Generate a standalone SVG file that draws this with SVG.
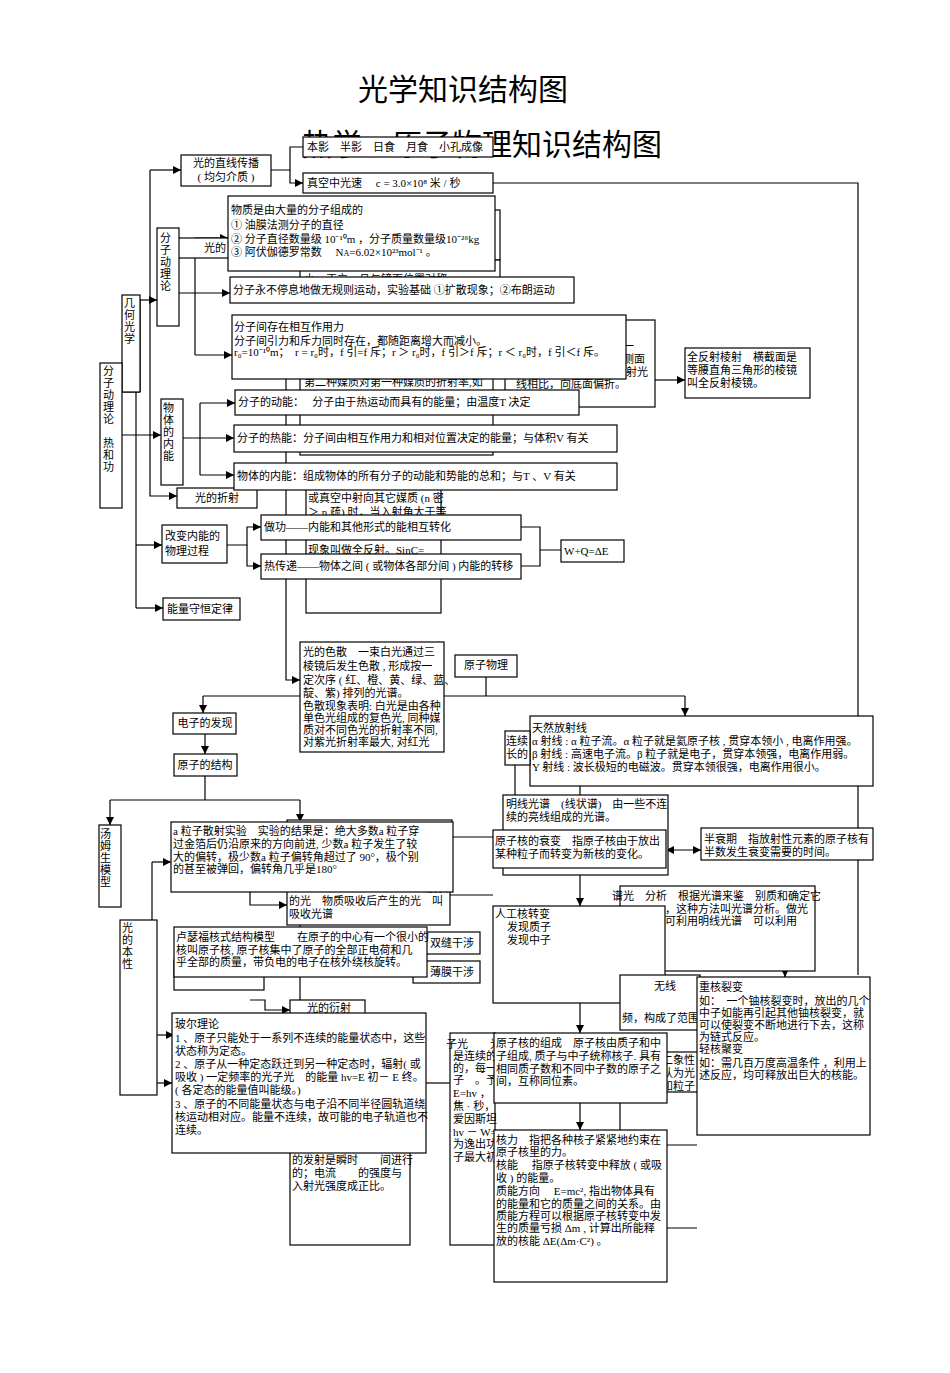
<svg xmlns="http://www.w3.org/2000/svg" width="950" height="1373" viewBox="0 0 950 1373">
<defs>
<marker id="a" viewBox="0 0 10 10" refX="10" refY="5" markerWidth="7" markerHeight="7" orient="auto"><path d="M0,0L10,5L0,10z" fill="#000"/></marker>
<marker id="s" viewBox="0 0 10 10" refX="0" refY="5" markerWidth="7" markerHeight="7" orient="auto"><path d="M10,0L0,5L10,10z" fill="#000"/></marker>
<style>
rect{fill:#fff;stroke:#000;stroke-width:1.2}
text{font-family:"Liberation Serif","Noto Sans CJK SC",serif;font-size:11px;fill:#000}
.t{font-family:"Noto Sans CJK SC","Liberation Sans",sans-serif;font-size:30px}
.l{fill:none;stroke:#000;stroke-width:1.2}
</style>
</defs>
<rect x="0" y="0" width="950" height="1373" style="stroke:none"/>
<text class="t" x="463" y="100" text-anchor="middle">光学知识结构图</text>
<text class="t" x="482" y="155" text-anchor="middle">热学、原子物理知识结构图</text>

<g id="connectors">
<path class="l" d="M493,183H858V975"/>
<path class="l" d="M271,170H290V147H303"/>
<path class="l" d="M290,170V183H303" marker-end="url(#a)"/>
<path class="l" d="M136,300V608"/>
<path class="l" d="M136,300H157" marker-end="url(#a)"/>
<path class="l" d="M122,435H161" marker-end="url(#a)"/>
<path class="l" d="M136,545H162" marker-end="url(#a)"/>
<path class="l" d="M136,608H163" marker-end="url(#a)"/>
<path class="l" d="M140,392H122M140,300V392"/>
<path class="l" d="M150,170H181" marker-end="url(#a)"/>
<path class="l" d="M150,170V496H177" marker-end="url(#a)"/>
<path class="l" d="M179,293H230" marker-end="url(#a)"/>
<path class="l" d="M195,238V355"/>
<path class="l" d="M195,238H228" marker-end="url(#a)"/>
<path class="l" d="M195,355H232" marker-end="url(#a)"/>
<path class="l" d="M183,438H234" marker-end="url(#a)"/>
<path class="l" d="M200,403V475"/>
<path class="l" d="M200,403H235" marker-end="url(#a)"/>
<path class="l" d="M200,475H234" marker-end="url(#a)"/>
<path class="l" d="M227,545H247V527H261" marker-end="url(#a)"/>
<path class="l" d="M247,545V566H261" marker-end="url(#a)"/>
<path class="l" d="M521,527H540V566H521M540,550H561"/>
<path class="l" d="M655,380H685" marker-end="url(#a)"/>
<path class="l" d="M286,376V680H300" marker-end="url(#a)"/>
<path class="l" d="M486,677V696"/>
<path class="l" d="M203,696H685"/>
<path class="l" d="M203,696V713" marker-end="url(#a)"/>
<path class="l" d="M685,696V716" marker-end="url(#a)"/>
<path class="l" d="M205,734V754" marker-end="url(#a)"/>
<path class="l" d="M205,776V800"/>
<path class="l" d="M110,800H300"/>
<path class="l" d="M110,800V825" marker-end="url(#a)"/>
<path class="l" d="M300,800V822" marker-end="url(#a)"/>
<path class="l" d="M152,862V1083"/>
<path class="l" d="M152,862H171" marker-end="url(#a)"/>
<path class="l" d="M157,1035H174" marker-end="url(#a)"/>
<path class="l" d="M152,1083H172" marker-end="url(#a)"/>
<path class="l" d="M250,1000H265V1010H290" marker-end="url(#a)"/>
<path class="l" d="M300,892V1013" marker-end="url(#a)"/>
<path class="l" d="M250,892V905H287" marker-end="url(#a)"/>
<path class="l" d="M493,851H515V757H505" marker-end="url(#a)"/>
<path class="l" d="M453,837H493"/>
<path class="l" d="M450,895H493"/>
<path class="l" d="M666,850H701" marker-start="url(#s)" marker-end="url(#a)"/>
<path class="l" d="M580,786V830" marker-end="url(#a)"/>
<path class="l" d="M580,868V906" marker-end="url(#a)"/>
<path class="l" d="M580,1003V1033" marker-end="url(#a)"/>
<path class="l" d="M580,1103V1130" marker-end="url(#a)"/>
<path class="l" d="M620,1103V1130"/>
<path class="l" d="M665,943H785V977" marker-end="url(#a)"/>
<path class="l" d="M426,1083H450"/>
<path class="l" d="M667,1145H697M667,1228H697"/>
</g>

<!-- background optics boxes -->
<g id="n-jihe"><rect x="122" y="295" width="18" height="97"/><text x="124" y="307">几</text><text x="124" y="319">何</text><text x="124" y="331">光</text><text x="124" y="343">学</text></g>
<g id="n-benxing"><rect x="120" y="920" width="37" height="175"/><text x="122" y="932">光</text><text x="122" y="944">的</text><text x="122" y="956">本</text><text x="122" y="968">性</text></g>
<g id="n-zhixian"><rect x="181" y="155" width="90" height="31"/><text x="226" y="167" text-anchor="middle">光的直线传播</text><text x="226" y="181" text-anchor="middle">( 均匀介质 )</text></g>
<g id="n-benying"><rect x="303" y="137" width="190" height="20"/><text x="307" y="151">本影　半影　日食　月食　小孔成像</text></g>
<g id="n-guangsu"><rect x="303" y="173" width="190" height="20"/><text x="307" y="187">真空中光速　 c = 3.0×10⁸ 米 / 秒</text></g>
<g id="n-fanshe"><rect x="176" y="238" width="60" height="20"/><text x="204" y="252">光的</text></g>
<g id="n-bg1"><rect x="300" y="210" width="200" height="50"/></g>
<g id="n-bg2"><rect x="300" y="260" width="200" height="30"/><text x="304" y="283">小、正立，且与镜面位置对称</text></g>
<g id="n-bg3"><rect x="300" y="320" width="193" height="135"/><text x="304" y="386">第二种媒质对第一种媒质的折射率,如</text></g>
<g id="n-prism"><rect x="505" y="320" width="150" height="87"/><text x="612" y="350">的一</text><text x="612" y="363">个侧面</text><text x="516" y="376">射面时，出射光线跟入射光</text><text x="516" y="388">线相比，向底面偏折。</text></g>
<g id="n-quanfan"><rect x="685" y="348" width="125" height="50"/><text x="687" y="361">全反射棱射　横截面是</text><text x="687" y="374">等腰直角三角形的棱镜</text><text x="687" y="387">叫全反射棱镜。</text></g>
<g id="n-zheshe"><rect x="177" y="488" width="80" height="20"/><text x="217" y="502" text-anchor="middle">光的折射</text></g>
<g id="n-quanfanshe"><rect x="306" y="480" width="135" height="133"/><text x="308" y="502">或真空中射向其它媒质 (n 密</text><text x="308" y="516">＞ n 疏) 时，当入射角大于等</text><text x="308" y="554">现象叫做全反射。SinC=</text></g>
<g id="n-sesan"><rect x="300" y="642" width="144" height="110"/><text x="303" y="656">光的色散　一束白光通过三</text><text x="303" y="670">棱镜后发生色散 , 形成按一</text><text x="303" y="684">定次序 ( 红、橙、黄、绿、蓝、</text><text x="303" y="697">靛、紫) 排列的光谱。</text><text x="303" y="710">色散现象表明: 白光是由各种</text><text x="303" y="722">单色光组成的复色光, 同种媒</text><text x="303" y="734">质对不同色光的折射率不同,</text><text x="303" y="746">对紫光折射率最大, 对红光</text></g>

<g id="n-fenzi"><rect x="100" y="363" width="22" height="145"/><text x="103" y="375">分</text><text x="103" y="387">子</text><text x="103" y="399">动</text><text x="103" y="411">理</text><text x="103" y="423">论</text><text x="103" y="447">热</text><text x="103" y="459">和</text><text x="103" y="471">功</text></g>
<g id="n-fzdll"><rect x="157" y="228" width="22" height="98"/><text x="160" y="242">分</text><text x="160" y="254">子</text><text x="160" y="266">动</text><text x="160" y="278">理</text><text x="160" y="290">论</text></g>
<g id="n-wuzhi"><rect x="228" y="196" width="267" height="75"/><text x="231" y="214">物质是由大量的分子组成的</text><text x="231" y="229">① 油膜法测分子的直径</text><text x="231" y="243">② 分子直径数量级 10⁻¹⁰m ，分子质量数量级10⁻²⁶kg</text><text x="231" y="256">③ 阿伏伽德罗常数　 N<tspan font-size="8">A</tspan>=6.02×10²³mol⁻¹ 。</text></g>
<g id="n-yundong"><rect x="230" y="277" width="344" height="26"/><text x="233" y="294">分子永不停息地做无规则运动，实验基础 ①扩散现象；②布朗运动</text></g>
<g id="n-xianghu"><rect x="232" y="315" width="394" height="64"/><text x="234" y="331">分子间存在相互作用力</text><text x="234" y="345">分子间引力和斥力同时存在，都随距离增大而减小。</text><text x="234" y="356" font-size="9">r₀=10⁻¹⁰m；　r = r₀时，f 引=f 斥；r ＞ r₀时，f 引＞f 斥；r ＜ r₀时，f 引＜f 斥。</text></g>
<g id="n-neneng"><rect x="161" y="399" width="22" height="86"/><text x="163" y="412">物</text><text x="163" y="424">体</text><text x="163" y="436">的</text><text x="163" y="448">内</text><text x="163" y="460">能</text></g>
<g id="n-dongneng"><rect x="235" y="390" width="344" height="25"/><text x="238" y="406">分子的动能：　 分子由于热运动而具有的能量；由温度T 决定</text></g>
<g id="n-reneng"><rect x="234" y="425" width="383" height="27"/><text x="237" y="442">分子的热能：分子间由相互作用力和相对位置决定的能量；与体积V 有关</text></g>
<g id="n-wuti"><rect x="234" y="463" width="383" height="27"/><text x="237" y="480">物体的内能：组成物体的所有分子的动能和势能的总和；与T 、V 有关</text></g>
<g id="n-gaibian"><rect x="162" y="525" width="65" height="38"/><text x="165" y="540">改变内能的</text><text x="165" y="555">物理过程</text></g>
<g id="n-zuogong"><rect x="261" y="515" width="260" height="25"/><text x="264" y="531">做功——内能和其他形式的能相互转化</text></g>
<g id="n-rechuan"><rect x="261" y="554" width="260" height="25"/><text x="264" y="570">热传递——物体之间 ( 或物体各部分间 ) 内能的转移</text></g>
<g id="n-wq"><rect x="561" y="540" width="63" height="22"/><text x="564" y="555">W+Q=ΔE</text></g>
<g id="n-shouheng"><rect x="163" y="598" width="77" height="22"/><text x="167" y="613">能量守恒定律</text></g>

<g id="n-yuanzi"><rect x="455" y="655" width="62" height="22"/><text x="486" y="669" text-anchor="middle">原子物理</text></g>
<g id="n-dianzi"><rect x="173" y="713" width="63" height="21"/><text x="205" y="727" text-anchor="middle">电子的发现</text></g>
<g id="n-jiegou"><rect x="174" y="754" width="63" height="22"/><text x="205" y="769" text-anchor="middle">原子的结构</text></g>
<g id="n-tangmu"><rect x="99" y="825" width="22" height="82"/><text x="100" y="838">汤</text><text x="100" y="850">姆</text><text x="100" y="862">生</text><text x="100" y="874">模</text><text x="100" y="886">型</text></g>
<g id="n-bgchan"><rect x="287" y="820" width="165" height="32"/><text x="426" y="834">产生</text></g>
<g id="n-xishou"><rect x="287" y="877" width="163" height="48"/><text x="426" y="892">波长</text><text x="289" y="905">的光　物质吸收后产生的光　叫</text><text x="289" y="918">吸收光谱</text></g>
<g id="n-alpha"><rect x="171" y="822" width="282" height="70"/><text x="173" y="835">a 粒子散射实验　实验的结果是：绝大多数a 粒子穿</text><text x="173" y="848">过金箔后仍沿原来的方向前进, 少数a 粒子发生了较</text><text x="173" y="861">大的偏转，极少数a 粒子偏转角超过了 90°，极个别</text><text x="173" y="873">的甚至被弹回，偏转角几乎是180°</text></g>
<g id="n-shuangfeng"><rect x="413" y="932" width="67" height="22"/><text x="430" y="947">双缝干涉</text></g>
<g id="n-bomo"><rect x="413" y="961" width="67" height="22"/><text x="430" y="976">薄膜干涉</text></g>
<g id="n-bodong"><rect x="174" y="960" width="90" height="30"/></g>
<g id="n-luse"><rect x="174" y="927" width="253" height="50"/><text x="176" y="941">卢瑟福核式结构模型　　在原子的中心有一个很小的</text><text x="176" y="954">核叫原子核, 原子核集中了原子的全部正电荷和几</text><text x="176" y="966">乎全部的质量，带负电的电子在核外绕核旋转。</text></g>
<g id="n-yanshe"><rect x="290" y="1000" width="75" height="20"/><text x="307" y="1012">光的衍射</text></g>
<g id="n-guangdian"><rect x="290" y="1020" width="120" height="225"/><text x="292" y="1164">的发射是瞬时　　间进行</text><text x="292" y="1177">的；电流　　的强度与</text><text x="292" y="1190">入射光强度成正比。</text></g>
<g id="n-boer"><rect x="172" y="1013" width="254" height="140"/><text x="175" y="1028">玻尔理论</text><text x="175" y="1042">1 、原子只能处于一系列不连续的能量状态中，这些</text><text x="175" y="1055">状态称为定态。</text><text x="175" y="1068">2 、原子从一种定态跃迁到另一种定态时，辐射( 或</text><text x="175" y="1081">吸收 ) 一定频率的光子光　的能量 hv=E 初－ E 终。</text><text x="175" y="1094">( 各定态的能量值叫能级。)</text><text x="175" y="1108">3 、原子的不同能量状态与电子沿不同半径圆轨道绕</text><text x="175" y="1121">核运动相对应。能量不连续，故可能的电子轨道也不</text><text x="175" y="1134">连续。</text></g>

<g id="n-tianran"><rect x="530" y="716" width="343" height="70"/><text x="532" y="732">天然放射线</text><text x="532" y="745">α 射线 : α 粒子流。α 粒子就是氦原子核 , 贯穿本领小 , 电离作用强。</text><text x="532" y="758">β 射线 : 高速电子流。β 粒子就是电子，贯穿本领强，电离作用弱。</text><text x="532" y="771">Y 射线 : 波长极短的电磁波。贯穿本领很强，电离作用很小。</text></g>
<g id="n-lianxu"><rect x="505" y="731" width="25" height="34"/><text x="506" y="745">连续</text><text x="506" y="758">长的</text></g>
<g id="n-mingxian"><rect x="503" y="795" width="165" height="80"/><text x="506" y="808">明线光谱　(线状谱)　由一些不连</text><text x="506" y="821">续的亮线组成的光谱。</text></g>
<g id="n-shuaibian"><rect x="493" y="830" width="173" height="38"/><text x="495" y="845">原子核的衰变　指原子核由于放出</text><text x="495" y="858">某种粒子而转变为新核的变化。</text></g>
<g id="n-banshuai"><rect x="701" y="828" width="172" height="32"/><text x="704" y="843">半衰期　指放射性元素的原子核有</text><text x="704" y="856">半数发生衰变需要的时间。</text></g>
<g id="n-fenxi"><rect x="620" y="886" width="195" height="85"/><text x="612" y="900">谱光　分析　根据光谱来鉴　别质和确定它</text><text x="665" y="913">，这种方法叫光谱分析。做光</text><text x="665" y="925">可利用明线光谱　可以利用</text></g>
<g id="n-rengong"><rect x="493" y="906" width="172" height="97"/><text x="495" y="918">人工核转变</text><text x="507" y="931">发现质子</text><text x="507" y="944">发现中子</text></g>
<g id="n-wuxian"><rect x="620" y="975" width="80" height="55"/><text x="654" y="990">无线</text><text x="622" y="1022">频，构成了范围</text></g>
<g id="n-erxiang"><rect x="660" y="1052" width="40" height="40"/><text x="662" y="1064">二象性</text><text x="662" y="1077">认为光</text><text x="662" y="1090">和粒子</text></g>
<g id="n-liebian"><rect x="697" y="977" width="173" height="158"/><text x="699" y="991">重核裂变</text><text x="699" y="1005">如：　一个铀核裂变时，放出的几个</text><text x="699" y="1017">中子如能再引起其他铀核裂变，就</text><text x="699" y="1029">可以使裂变不断地进行下去，这称</text><text x="699" y="1041">为链式反应。</text><text x="699" y="1053">轻核聚变</text><text x="699" y="1067">如：需几百万度高温条件 ，利用上</text><text x="699" y="1079">述反应，均可释放出巨大的核能。</text></g>
<g id="n-guangzi"><rect x="450" y="1033" width="45" height="212"/><text x="446" y="1048">子光　　光</text><text x="453" y="1060">是连续的</text><text x="453" y="1072">的，每一</text><text x="453" y="1084">子　。予</text><text x="453" y="1097">E=hv ，</text><text x="453" y="1110">焦 · 秒，</text><text x="453" y="1123">爱因斯坦</text><text x="453" y="1136">hv － W=</text><text x="453" y="1148">为逸出功</text><text x="453" y="1161">子最大初</text></g>
<g id="n-zucheng"><rect x="494" y="1033" width="173" height="70"/><text x="496" y="1047">原子核的组成　原子核由质子和中</text><text x="496" y="1060">子组成, 质子与中子统称核子. 具有</text><text x="496" y="1073">相同质子数和不同中子数的原子之</text><text x="496" y="1085">间，互称同位素。</text></g>
<g id="n-heli"><rect x="494" y="1130" width="173" height="152"/><text x="496" y="1144">核力　指把各种核子紧紧地约束在</text><text x="496" y="1156">原子核里的力。</text><text x="496" y="1169">核能　 指原子核转变中释放 ( 或吸</text><text x="496" y="1182">收 ) 的能量。</text><text x="496" y="1195">质能方向　 E=mc², 指出物体具有</text><text x="496" y="1208">的能量和它的质量之间的关系。由</text><text x="496" y="1220">质能方程可以根据原子核转变中发</text><text x="496" y="1232">生的质量亏损 Δm , 计算出所能释</text><text x="496" y="1245">放的核能 ΔE(Δm·C²) 。</text></g>
</svg>
